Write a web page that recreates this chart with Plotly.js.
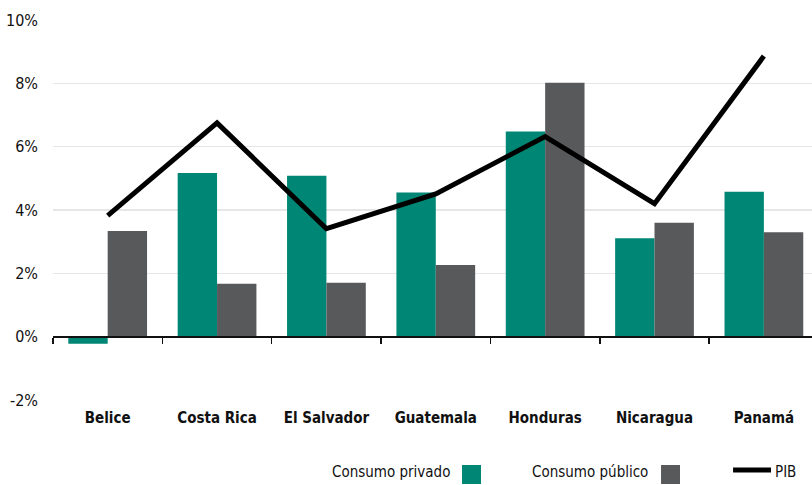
<!DOCTYPE html>
<html>
<head>
<meta charset="utf-8">
<script src="https://cdn.plot.ly/plotly-3.0.1.min.js"></script>
<style>html,body{margin:0;padding:0;background:#fff;}#chart{width:812px;height:485px;}</style>
</head>
<body>
<div id="chart"></div>
<script>
const countries = ["Belice", "Costa Rica", "El Salvador", "Guatemala", "Honduras", "Nicaragua", "Panamá"];
const consumoPrivado = [-0.22, 5.17, 5.08, 4.55, 6.48, 3.11, 4.58];
const consumoPublico = [3.34, 1.67, 1.70, 2.26, 8.02, 3.60, 3.30];
const pib = [3.82, 6.75, 3.41, 4.51, 6.32, 4.20, 8.86];
const yTickVals = [-2, 0, 2, 4, 6, 8, 10];
const yTickText = ["-2%", "0%", "2%", "4%", "6%", "8%", "10%"];
const seriesNames = ["Consumo privado", "Consumo público", "PIB"];

const TEAL = "#008674";
const GRAY = "#58595b";
const FONT = "'Liberation Sans Narrow', 'DejaVu Sans Condensed', 'Roboto Condensed', 'Arial Narrow', 'Noto Sans', sans-serif";

const yMin = -2, yMax = 10;

const traces = [
  {type: "bar", x: countries, y: consumoPrivado, name: seriesNames[0], marker: {color: TEAL}, showlegend: false, hoverinfo: "skip"},
  {type: "bar", x: countries, y: consumoPublico, name: seriesNames[1], marker: {color: GRAY}, showlegend: false, hoverinfo: "skip"},
  {type: "scatter", mode: "lines", x: countries, y: pib, name: seriesNames[2], xaxis: "x2", line: {color: "#000", width: 5}, showlegend: false, hoverinfo: "skip"}
];

// legend built manually (text before symbol, as in the reference)
const legY = -0.189;
const legFont = {family: FONT, size: 15, color: "#111"};
const annotations = [
  {xref: "paper", yref: "paper", x: 0.5257, y: legY, xanchor: "right", yanchor: "middle", text: seriesNames[0], showarrow: false, font: legFont},
  {xref: "paper", yref: "paper", x: 0.7866, y: legY, xanchor: "right", yanchor: "middle", text: seriesNames[1], showarrow: false, font: legFont},
  {xref: "paper", yref: "paper", x: 0.9486, y: legY, xanchor: "left", yanchor: "middle", text: seriesNames[2], showarrow: false, font: legFont}
];
const shapes = [
  {type: "rect", xref: "paper", yref: "paper", x0: 0.5389, x1: 0.5639, y0: -0.221, y1: -0.171, fillcolor: TEAL, line: {width: 0}},
  {type: "rect", xref: "paper", yref: "paper", x0: 0.8011, x1: 0.8261, y0: -0.221, y1: -0.171, fillcolor: GRAY, line: {width: 0}},
  {type: "line", xref: "paper", yref: "paper", x0: 0.8960, x1: 0.9460, y0: -0.184, y1: -0.184, line: {color: "#000", width: 5}}
];

const layout = {
  width: 812, height: 485,
  margin: {l: 53, r: 0, t: 20, b: 85},
  paper_bgcolor: "#fff", plot_bgcolor: "#fff",
  font: {family: FONT, color: "#111"},
  barmode: "group", bargap: 0.28, bargroupgap: 0,
  xaxis: {
    type: "category", categoryarray: countries, range: [-0.5, 6.44],
    showline: false, showgrid: false, zeroline: false, ticks: "",
    tickfont: {family: FONT, size: 15, weight: "bold", color: "#111"},
    ticklabelstandoff: 7
  },
  xaxis2: {
    type: "category", categoryarray: countries, overlaying: "x", matches: "x",
    anchor: "free", position: (0 - yMin) / (yMax - yMin),
    showticklabels: false, showgrid: false, zeroline: false,
    showline: true, linecolor: "#111", linewidth: 2,
    ticks: "outside", tickson: "boundaries", ticklen: 6, tickwidth: 1.5, tickcolor: "#111"
  },
  yaxis: {
    range: [yMin, yMax], tickvals: yTickVals, ticktext: yTickText,
    showgrid: true, gridcolor: "#e6e6e6", gridwidth: 1.5,
    zeroline: false, showline: false, ticks: "",
    tickfont: {family: FONT, size: 16, color: "#111"},
    ticklabelstandoff: 14
  },
  annotations: annotations,
  shapes: shapes
};

Plotly.newPlot("chart", traces, layout, {staticPlot: true, displayModeBar: false});
</script>
</body>
</html>
